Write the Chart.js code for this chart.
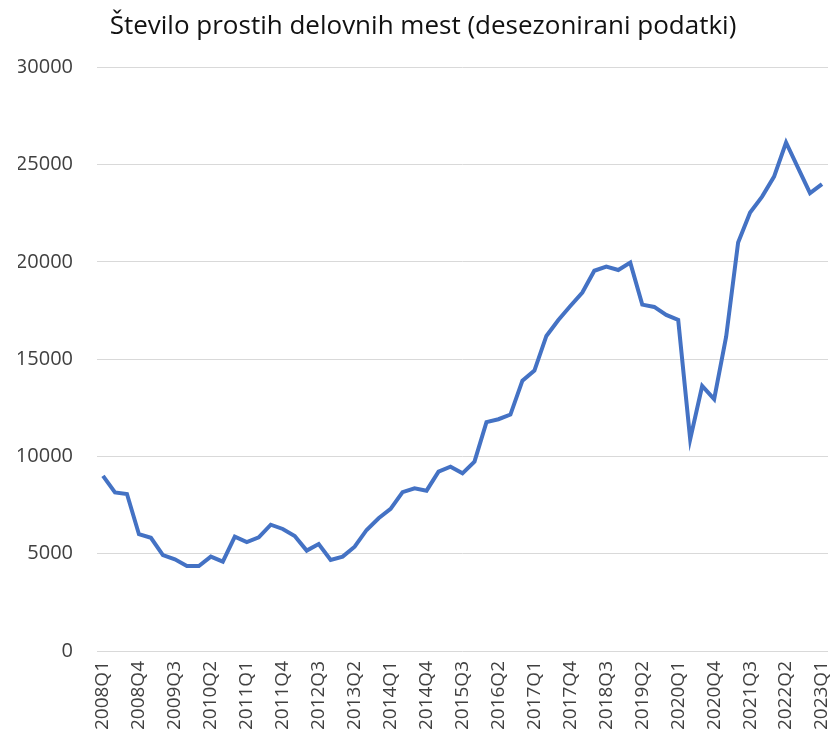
<!DOCTYPE html>
<html>
<head>
<meta charset="utf-8">
<script src="https://cdn.jsdelivr.net/npm/chart.js@4/dist/chart.umd.min.js"></script>
<style>
  html, body { margin: 0; padding: 0; background: #fff; }
  #wrap { width: 831px; height: 748px; }
</style>
</head>
<body>
<div id="wrap"><canvas id="myChart" width="831" height="748"></canvas></div>
<script>
const quarters = [
  "2008Q1", "2008Q2", "2008Q3", "2008Q4",
  "2009Q1", "2009Q2", "2009Q3", "2009Q4",
  "2010Q1", "2010Q2", "2010Q3", "2010Q4",
  "2011Q1", "2011Q2", "2011Q3", "2011Q4",
  "2012Q1", "2012Q2", "2012Q3", "2012Q4",
  "2013Q1", "2013Q2", "2013Q3", "2013Q4",
  "2014Q1", "2014Q2", "2014Q3", "2014Q4",
  "2015Q1", "2015Q2", "2015Q3", "2015Q4",
  "2016Q1", "2016Q2", "2016Q3", "2016Q4",
  "2017Q1", "2017Q2", "2017Q3", "2017Q4",
  "2018Q1", "2018Q2", "2018Q3", "2018Q4",
  "2019Q1", "2019Q2", "2019Q3", "2019Q4",
  "2020Q1", "2020Q2", "2020Q3", "2020Q4",
  "2021Q1", "2021Q2", "2021Q3", "2021Q4",
  "2022Q1", "2022Q2", "2022Q3", "2022Q4",
  "2023Q1"
];

const vacancies = [
  9000, 8150, 8070, 6000,
  5820, 4930, 4710, 4370,
  4370, 4850, 4590, 5880,
  5600, 5840, 6490, 6270,
  5910, 5160, 5500, 4680,
  4850, 5360, 6220, 6820,
  7300, 8160, 8360, 8240,
  9220, 9470, 9130, 9730,
  11760, 11910, 12150, 13890,
  14410, 16190, 17010, 17730,
  18420, 19540, 19750, 19580,
  19960, 17800, 17680, 17270,
  17010, 10880, 13620, 12940,
  16150, 20990, 22530, 23350,
  24380, 26130, 24830, 23530,
  23990
];

// labels that Excel shows on the category axis (every third quarter)
const shownTicks = [
  "2008Q1", "2008Q4", "2009Q3", "2010Q2", "2011Q1", "2011Q4", "2012Q3",
  "2013Q2", "2014Q1", "2014Q4", "2015Q3", "2016Q2", "2017Q1", "2017Q4",
  "2018Q3", "2019Q2", "2020Q1", "2020Q4", "2021Q3", "2022Q2", "2023Q1"
];

const yTicks = [0, 5000, 10000, 15000, 20000, 25000, 30000];

const chartTitle = "Število prostih delovnih mest (desezonirani podatki)";

let ctx = document.getElementById('myChart');

let myChart = new Chart(ctx, {
  type: "line",
  data: {
    labels: quarters,
    datasets: [
      {
        label: "Prosta delovna mesta",
        data: vacancies,
        borderColor: "#4472C4",
        backgroundColor: "#4472C4",
        borderWidth: 4,
        pointRadius: 0,
        tension: 0,
        fill: false,
      },
    ],
  },
  options: {
    responsive: false,
    animation: false,
    layout: {
      padding: { left: 18, right: 3, top: 0, bottom: 0 },
    },
    plugins: {
      legend: { display: false },
      tooltip: { enabled: false },
      title: {
        display: true,
        text: chartTitle,
        color: "#111",
        font: { family: "Open Sans", size: 26, weight: "normal" },
        padding: { top: 11, bottom: 25 },
      },
    },
    scales: {
      x: {
        offset: true,
        grid: { display: false, drawTicks: false },
        border: { display: false },
        ticks: {
          autoSkip: false,
          minRotation: 90,
          maxRotation: 90,
          padding: 10,
          color: "#404040",
          font: { family: "Open Sans", size: 19 },
          callback: function (value, index) {
            const lab = quarters[index];
            return shownTicks.includes(lab) ? lab : "";
          },
        },
        afterFit: function (scale) {
          scale.height = 97;
          scale.paddingLeft = 0;
          scale.paddingRight = 0;
        },
      },
      y: {
        min: yTicks[0],
        max: yTicks[yTicks.length - 1],
        grid: { color: "#d9d9d9", lineWidth: 1, drawTicks: false },
        border: { display: false },
        afterBuildTicks: function (scale) {
          scale.ticks = yTicks.map((v) => ({ value: v }));
        },
        ticks: {
          padding: 24,
          color: "#404040",
          font: { family: "Open Sans", size: 20 },
          callback: function (value) {
            return String(value);
          },
        },
        afterFit: function (scale) {
          scale.width = 79;
          scale.paddingTop = 0;
          scale.paddingBottom = 0;
        },
      },
    },
  },
});
</script>
</body>
</html>
